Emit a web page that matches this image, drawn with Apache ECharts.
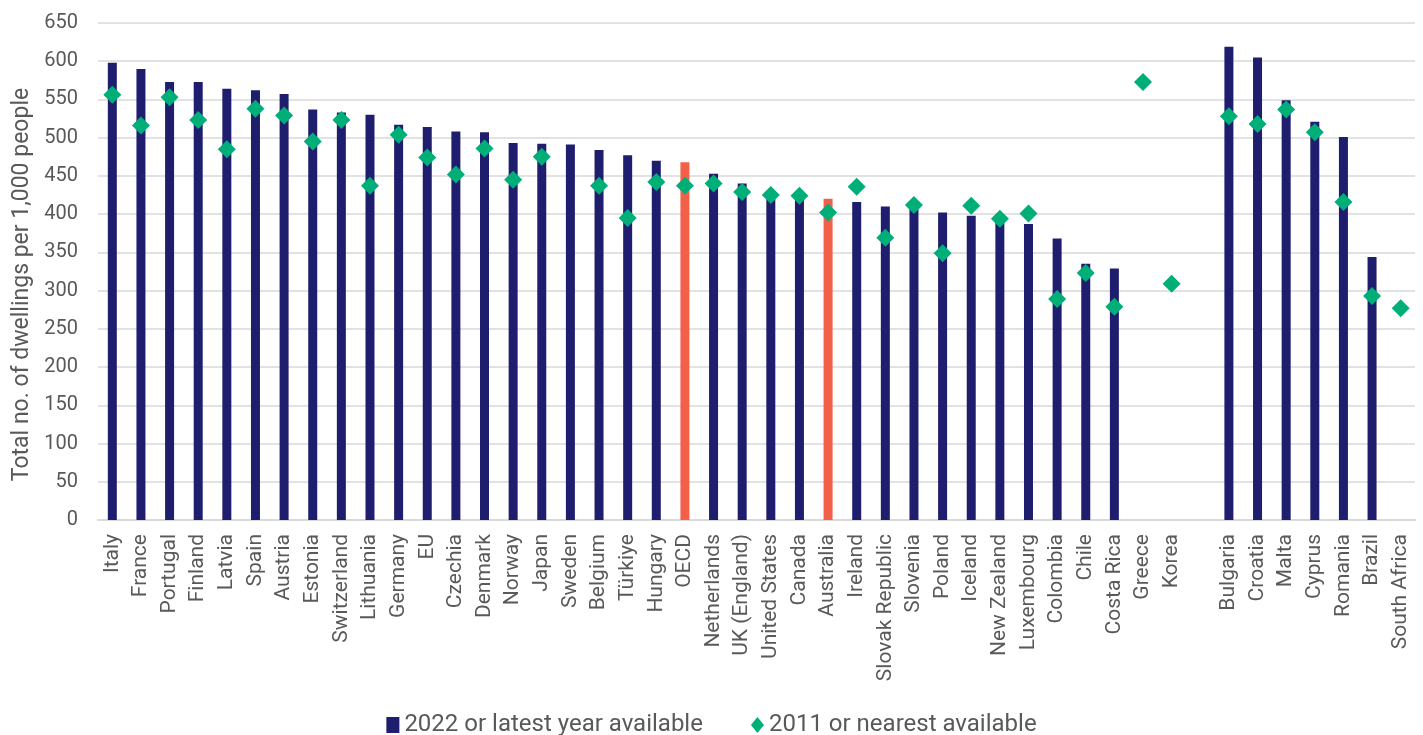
<!DOCTYPE html>
<html>
<head>
<meta charset="utf-8">
<script src="https://cdn.jsdelivr.net/npm/echarts@6/dist/echarts.min.js"></script>
<style>
  html, body { margin: 0; padding: 0; background: #fff; }
  #chart { width: 1423px; height: 735px; }
</style>
</head>
<body>
<div id="chart"></div>
<script>
const countries = [
  "Italy", "France", "Portugal", "Finland", "Latvia", "Spain", "Austria", "Estonia",
  "Switzerland", "Lithuania", "Germany", "EU", "Czechia", "Denmark", "Norway", "Japan",
  "Sweden", "Belgium", "Türkiye", "Hungary", "OECD", "Netherlands", "UK (England)",
  "United States", "Canada", "Australia", "Ireland", "Slovak Republic", "Slovenia",
  "Poland", "Iceland", "New Zealand", "Luxembourg", "Colombia", "Chile", "Costa Rica",
  "Greece", "Korea", "", "Bulgaria", "Croatia", "Malta", "Cyprus", "Romania", "Brazil",
  "South Africa"
]

// 2022 or latest year available
const latest = [
  598, 590, 573, 573, 564, 562, 557, 537, 533, 530, 517, 514, 508, 507, 493, 492,
  491, 484, 477, 470, 468, 453, 440, 427, 421, 420, 416, 410, 409, 402, 398, 390,
  387, 368, 335, 329, null, null, null, 619, 605, 549, 521, 501, 344, null
]

// 2011 or nearest available
const earlier = [
  556, 516, 553, 523, 485, 538, 529, 495, 523, 437, 504, 474, 452, 486, 445, 475,
  null, 437, 395, 442, 437, 440, 429, 425, 424, 402, 436, 369, 412, 349, 411, 394,
  401, 289, 323, 279, 573, 309, null, 528, 518, 537, 507, 416, 293, 277
]

const highlighted = ["OECD", "Australia"]

const NAVY = "#1f1e6e"
const ORANGE = "#f2604a"
const GREEN = "#00ae78"
const TEXT = "#595959"
const FONT = "Roboto"

const chart = echarts.init(document.getElementById("chart"))

const option = {
  backgroundColor: "#fff",
  animation: false,
  textStyle: { fontFamily: FONT },
  grid: {
    left: 98,
    right: 8,
    top: 23,
    bottom: 215,
  },
  legend: {
    top: 708,
    left: "center",
    itemGap: 48,
    itemWidth: 13,
    itemHeight: 16,
    textStyle: { color: TEXT, fontSize: 24, fontFamily: FONT },
    data: [
      { name: "2022 or latest year available", icon: "rect" },
      { name: "2011 or nearest available", icon: "diamond" },
    ],
  },
  xAxis: {
    type: "category",
    data: countries,
    axisLine: { lineStyle: { color: "#d9d9d9", width: 2 } },
    axisTick: { show: false },
    axisLabel: {
      interval: 0,
      rotate: 90,
      color: TEXT,
      fontSize: 21,
      margin: 14,
      fontFamily: FONT,
    },
  },
  yAxis: {
    type: "value",
    min: 0,
    max: 650,
    interval: 50,
    name: "Total no. of dwellings per 1,000 people",
    nameLocation: "middle",
    nameGap: 64,
    nameTextStyle: {
      color: TEXT,
      fontSize: 23,
      fontFamily: FONT,
      padding: [0, 26, 0, 0],
    },
    axisLine: { show: false },
    axisTick: { show: false },
    axisLabel: { color: TEXT, fontSize: 20, margin: 20, fontFamily: FONT },
    splitLine: { lineStyle: { color: "#d9d9d9", width: 1.5 } },
  },
  series: [
    {
      name: "2022 or latest year available",
      type: "bar",
      barWidth: 9,
      itemStyle: { color: NAVY },
      data: latest.map((v, i) =>
        highlighted.includes(countries[i])
          ? { value: v, itemStyle: { color: ORANGE } }
          : v
      ),
    },
    {
      name: "2011 or nearest available",
      type: "scatter",
      symbol: "diamond",
      symbolSize: [18, 18],
      itemStyle: { color: GREEN, opacity: 1 },
      z: 3,
      data: earlier,
    },
  ],
}

chart.setOption(option)
</script>
</body>
</html>
